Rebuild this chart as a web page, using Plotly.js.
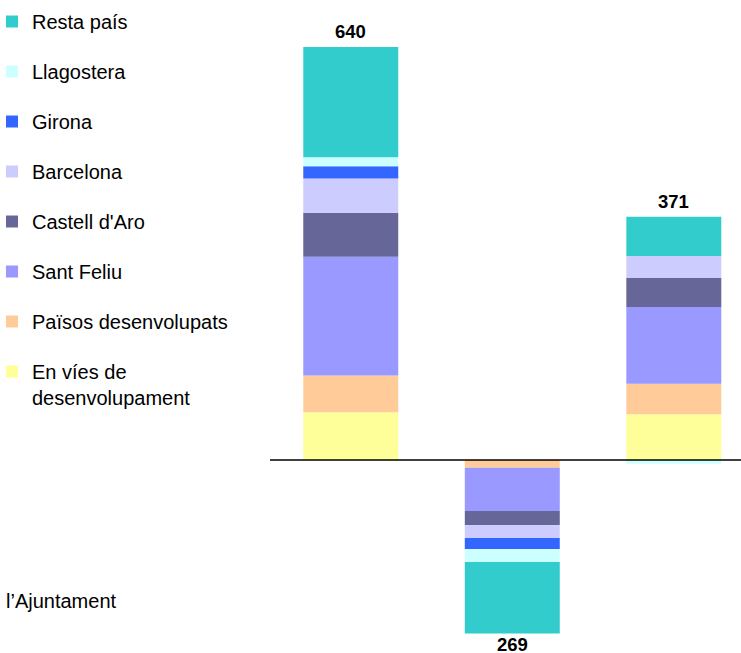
<!DOCTYPE html>
<html>
<head>
<meta charset="utf-8">
<script src="https://cdn.plot.ly/plotly-3.0.1.min.js"></script>
<style>html,body{margin:0;padding:0;background:#fff}#chart{width:741px;height:653px}</style>
</head>
<body>
<div id="chart"></div>
<script>
// categories (x-axis hidden in the original)
const categories = ['Total', 'Sortides', 'Saldo'];
// series values, bottom to top of the positive stack
const enViesDesenvolupament = [74, 0, 71];
const paissosDesenvolupats = [57, -12, 47];
const santFeliu = [184, -67, 119];
const castellDaro = [68, -22, 45];
const barcelona = [53, -20, 34];
const girona = [19, -17, 0];
const llagostera = [14, -20, -6];
const restaPais = [171, -111, 61];
// total labels
const totalLabels = ['640', '269', '371'];
const sideLabel = 'l\u2019Ajuntament';

const seriesNames = ['En víes de<br>desenvolupament', 'Països desenvolupats', 'Sant Feliu', "Castell d'Aro", 'Barcelona', 'Girona', 'Llagostera', 'Resta país'];
const seriesValues = [enViesDesenvolupament, paissosDesenvolupats, santFeliu, castellDaro, barcelona, girona, llagostera, restaPais];
const seriesColors = ['#FFFF99', '#FFCC99', '#9999FF', '#666699', '#CCCCFF', '#3366FF', '#CCFFFF', '#33CCCC'];

const FONT = 'Liberation Sans, Arial, sans-serif';

const traces = seriesNames.map((n, i) => ({
  type: 'bar',
  name: n,
  x: categories,
  y: seriesValues[i],
  legendgroup: 'g' + i,
  legendrank: seriesNames.length - i,
  marker: {color: seriesColors[i], line: {width: 0}},
  hoverinfo: 'name+y'
}));

const posTop = categories.map((c, j) => seriesValues.reduce((s, v) => s + Math.max(0, v[j]), 0));
const negBot = categories.map((c, j) => seriesValues.reduce((s, v) => s + Math.min(0, v[j]), 0));

const annotations = categories.map((c, j) => {
  const neg = (j === 1);
  return {
    x: c, y: neg ? negBot[j] : posTop[j], xref: 'x', yref: 'y',
    text: '<b>' + totalLabels[j] + '</b>', showarrow: false,
    yanchor: 'middle', yshift: neg ? -11 : 15,
    font: {family: FONT, size: 18.5, color: '#000'}
  };
});
// plot area spans 270..741 px horizontally
const px = (p) => (p - 270) / 471;
annotations.push({
  x: px(119), xref: 'paper', y: 0.08, yref: 'paper', xanchor: 'right', yanchor: 'middle',
  text: sideLabel, showarrow: false, font: {family: FONT, size: 20, color: '#000'}
});

const layout = {
  width: 741, height: 653,
  margin: {l: 270, r: 0, t: 0, b: 0, pad: 0, autoexpand: false},
  paper_bgcolor: '#fff', plot_bgcolor: '#fff',
  barmode: 'relative',
  bargap: 0.412,
  font: {family: FONT, size: 20, color: '#000'},
  xaxis: {type: 'category', categoryorder: 'array', categoryarray: categories, range: [-0.5, 2.416], visible: false, fixedrange: true},
  yaxis: {range: [-299.1, 712.8], visible: false, zeroline: false, showgrid: false, fixedrange: true},
  showlegend: true,
  legend: {
    xref: 'paper', yref: 'paper', x: px(-8), y: 1 - 2 / 653, xanchor: 'left', yanchor: 'top',
    traceorder: 'grouped', tracegroupgap: 21, valign: 'top', maxheight: 640,
    font: {family: FONT, size: 20, color: '#000'}, bgcolor: 'rgba(0,0,0,0)', borderwidth: 0
  },
  shapes: [{type: 'line', xref: 'paper', yref: 'y', x0: 0, x1: 1, y0: 0, y1: 0, layer: 'above', line: {color: '#000', width: 1.5}}],
  annotations: annotations
};

Plotly.newPlot('chart', traces, layout, {displayModeBar: false, staticPlot: true});
</script>
</body>
</html>
